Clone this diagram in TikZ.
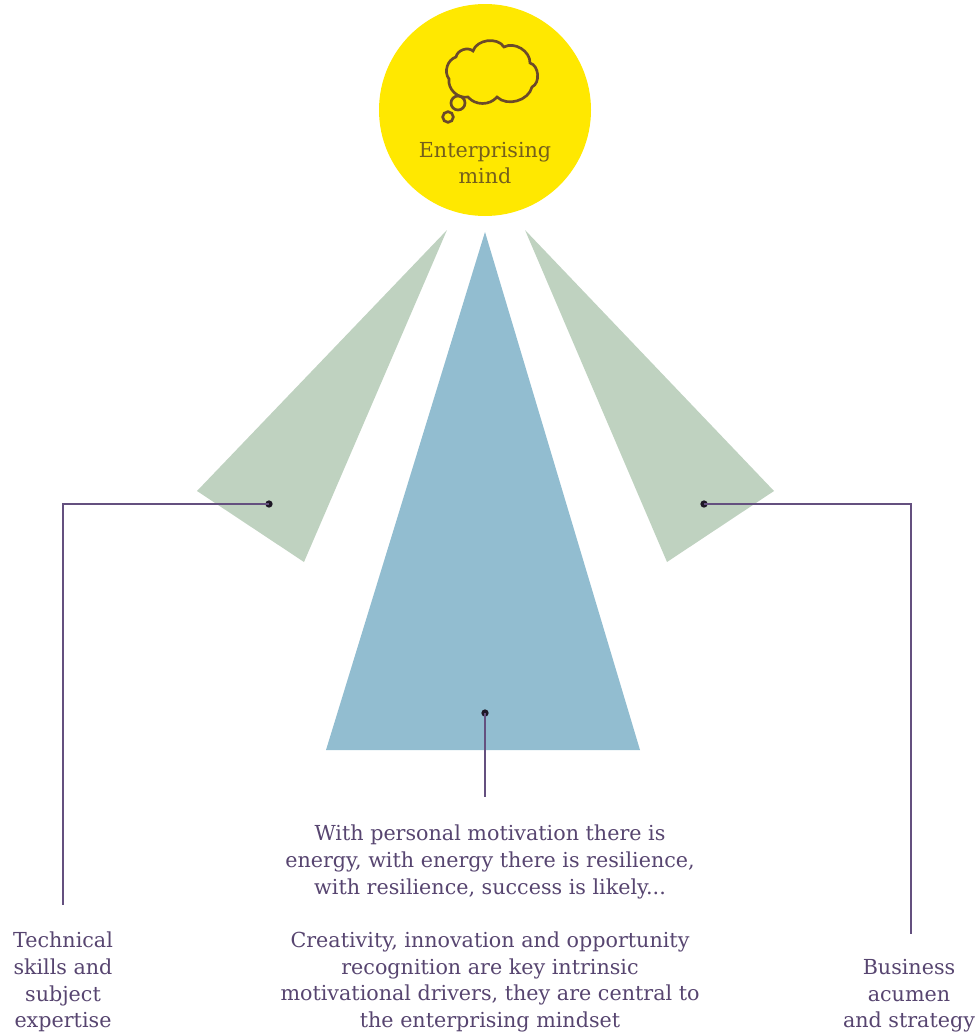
\documentclass[tikz,border=0pt]{standalone}
\usepackage{fontspec}
\setmainfont{DejaVu Serif}
\definecolor{sunyellow}{HTML}{FFE800}
\definecolor{sagegreen}{HTML}{BFD2C0}
\definecolor{skyblue}{HTML}{92BDD0}
\definecolor{linepurple}{HTML}{64507F}
\definecolor{textpurple}{HTML}{574570}
\definecolor{cloudbrown}{HTML}{6B4A2A}
\definecolor{mindbrown}{HTML}{75601C}
\tikzset{caption/.style = {align=center, text=textpurple, font=\fontsize{15.5}{20}\selectfont, inner sep=0pt}}
\tikzset{leader/.style = {draw=linepurple, line width=2.1pt}}
\tikzset{dotmark/.style = {circle, fill=black!70!linepurple, minimum size=5.5pt, inner sep=0pt}}
\tikzset{cloudline/.style = {draw=cloudbrown, line width=2pt}}

\begin{document}
\begin{tikzpicture}[x=0.75pt, y=-0.75pt]
  \useasboundingbox (0,0) rectangle (980,1035);

  \node [circle, fill=sunyellow, minimum size=159pt, inner sep=0pt] (mind) at (485,110) {};
  \node [align=center, text=mindbrown, font=\fontsize{15.5}{20}\selectfont, inner sep=0pt] (mindtext) at (485,163) {Enterprising\\mind};

  % thought cloud
  \path[cloudline] (456,57) to[bend left=60] (473,51) to[bend left=65] (504,47) to[bend left=60] (530,63)
    to[bend left=70] (532,87) to[bend left=60] (497,97) to[bend left=50] (468,97)
    to[bend left=55] (449,79) to[bend left=55] cycle;
  \node [circle, cloudline, minimum size=10.5pt, inner sep=0pt] (bubblea) at (458,103) {};
  \node [circle, cloudline, minimum size=8pt, inner sep=0pt] (bubbleb) at (448,117) {};

  \fill[sagegreen] (447,230) -- (197,491) -- (304,562) -- cycle;
  \fill[skyblue] (485,232) -- (326,750) -- (640,750) -- cycle;
  \fill[sagegreen] (525,230) -- (774,491) -- (667,562) -- cycle;

  \node [dotmark] (dotl) at (269,504) {};
  \node [dotmark] (dotc) at (485,713) {};
  \node [dotmark] (dotr) at (704,504) {};

  \coordinate (cornerl) at (63,504);
  \coordinate (endl) at (63,905);
  \coordinate (endc) at (485,797);
  \coordinate (cornerr) at (911,504);
  \coordinate (endr) at (911,934);

  \path[leader] (dotl.center) -- (cornerl) -- (endl);
  \path[leader] (dotc.center) -- (endc);
  \path[leader] (dotr.center) -- (cornerr) -- (endr);

  \node [caption] (lefttext) at (63,982) {Technical\\skills and\\subject\\expertise};
  \node [caption] (toptext) at (490,862) {With personal motivation there is\\energy, with energy there is resilience,\\with resilience, success is likely...};
  \node [caption] (bottomtext) at (490,982) {Creativity, innovation and opportunity\\recognition are key intrinsic\\motivational drivers, they are central to\\the enterprising mindset};
  \node [caption] (righttext) at (909,996) {Business\\acumen\\and strategy};
\end{tikzpicture}
\end{document}
